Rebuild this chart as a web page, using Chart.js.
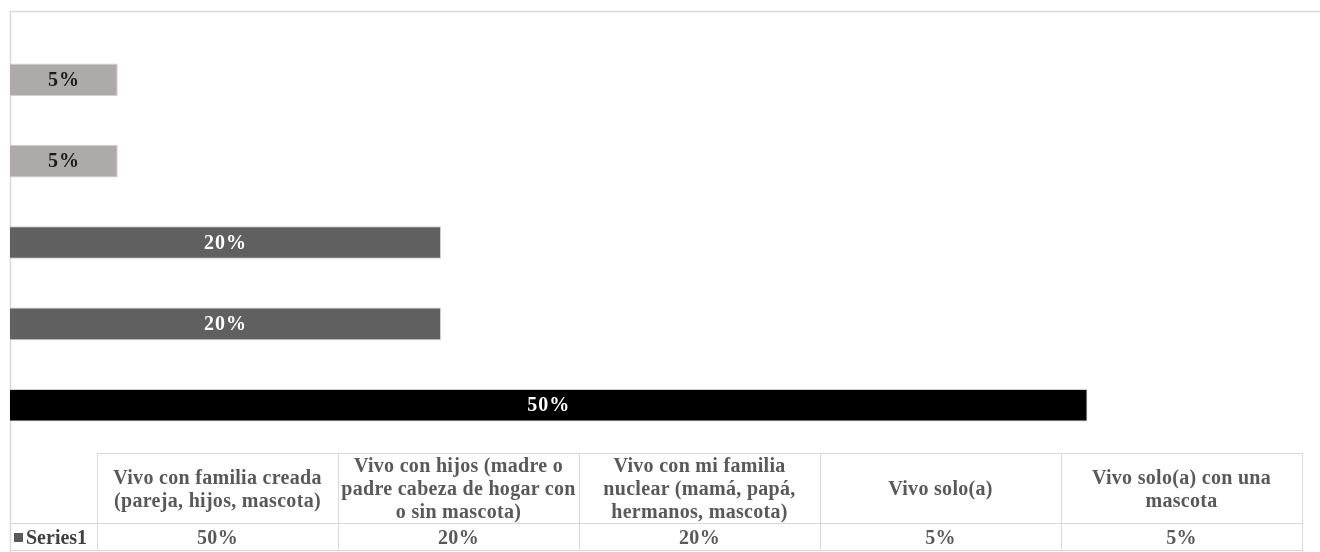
<!DOCTYPE html>
<html>
<head>
<meta charset="utf-8">
<script src="https://cdn.jsdelivr.net/npm/chart.js@4.4.0/dist/chart.umd.min.js"></script>
<style>
  body { margin: 0; background: #fff; }
  #wrap { position: relative; width: 1320px; height: 552px; }
  #chart { position: absolute; left: 0; top: 0; }
  #datatable {
    position: absolute; left: 10px; top: 453px;
    border-collapse: collapse; table-layout: fixed;
    font-family: "Liberation Serif", "Times New Roman", serif;
    font-weight: bold; font-size: 20px; letter-spacing: 0.3px; color: #595959;
  }
  #datatable td {
    border: 1px solid #d9d9d9; text-align: center; padding: 0;
    white-space: nowrap; line-height: 23px;
  }
  #datatable tr.head td { height: 69px; }
  #datatable tr.vals td { height: 26px; line-height: 26px; }
  #datatable td.corner { border-top: none; border-left: none; }
  #datatable td.series { border-left: none; text-align: left; padding-left: 4px; color: #404040; letter-spacing: 0; }
  .key { display: inline-block; width: 9px; height: 9px; background: #595959; margin-right: 3px; vertical-align: 2px; }
</style>
</head>
<body>
<div id="wrap">
  <canvas id="chart" width="1320" height="552"></canvas>
  <table id="datatable"></table>
</div>
<script>
// Categories (first one sits at the bottom of the chart, like the table order)
const categories = [
  ['Vivo con familia creada', '(pareja, hijos, mascota)'],
  ['Vivo con hijos (madre o', 'padre cabeza de hogar con', 'o sin mascota)'],
  ['Vivo con mi familia', 'nuclear (mamá, papá,', 'hermanos, mascota)'],
  ['Vivo solo(a)'],
  ['Vivo solo(a) con una', 'mascota']
];
const seriesName = 'Series1';
const values = [0.5, 0.2, 0.2, 0.05, 0.05];
const barColors = ['#000000', '#606060', '#606060', '#aeaaaa', '#aeaaaa'];
const labelColors = ['#ffffff', '#ffffff', '#ffffff', '#1a1a1a', '#1a1a1a'];

function pct(v) {
  return Math.round(v * 100) + '%';
}

// Build the data table under the bars
function buildTable() {
  const table = document.getElementById('datatable');
  let head = '<colgroup><col style="width:87px">';
  categories.forEach(function() { head += '<col style="width:241px">'; });
  head += '</colgroup>';
  let row1 = '<tr class="head"><td class="corner"></td>';
  categories.forEach(function(c) { row1 += '<td>' + c.join('<br>') + '</td>'; });
  row1 += '</tr>';
  let row2 = '<tr class="vals"><td class="series"><span class="key"></span>' + seriesName + '</td>';
  values.forEach(function(v) { row2 += '<td>' + pct(v) + '</td>'; });
  row2 += '</tr>';
  table.innerHTML = head + row1 + row2;
}

// Frame lines and value labels inside the bars
const framePlugin = {
  id: 'frame',
  beforeDatasetsDraw: function(chart) {
    const ctx = chart.ctx;
    ctx.save();
    ctx.strokeStyle = '#d9d9d9';
    ctx.lineWidth = 1.5;
    ctx.beginPath();
    ctx.moveTo(10, 11.5);
    ctx.lineTo(1320, 11.5);
    ctx.moveTo(10.5, 11);
    ctx.lineTo(10.5, 552);
    ctx.stroke();
    ctx.restore();
  },
  afterDatasetsDraw: function(chart) {
    const ctx = chart.ctx;
    const meta = chart.getDatasetMeta(0);
    ctx.save();
    ctx.font = 'bold 20px "Liberation Serif", "Times New Roman", serif';
    ctx.letterSpacing = '1px';
    ctx.textAlign = 'center';
    ctx.textBaseline = 'middle';
    meta.data.forEach(function(bar, i) {
      ctx.fillStyle = labelColors[i];
      ctx.fillText(pct(values[i]), (bar.base + bar.x) / 2, bar.y + 1);
    });
    ctx.restore();
  }
};

buildTable();

new Chart(document.getElementById('chart'), {
  type: 'bar',
  data: {
    labels: categories,
    datasets: [{
      label: seriesName,
      data: values,
      backgroundColor: barColors,
      borderColor: '#cfcfcf',
      borderWidth: 1,
      barPercentage: 1,
      categoryPercentage: 0.4
    }]
  },
  options: {
    indexAxis: 'y',
    responsive: false,
    animation: false,
    layout: { padding: { left: 10, right: 17, top: 39, bottom: 106 } },
    plugins: {
      legend: { display: false },
      tooltip: { enabled: false }
    },
    scales: {
      x: { display: false, min: 0, max: 0.6 },
      y: { display: false, reverse: true }
    }
  },
  plugins: [framePlugin]
});
</script>
</body>
</html>
